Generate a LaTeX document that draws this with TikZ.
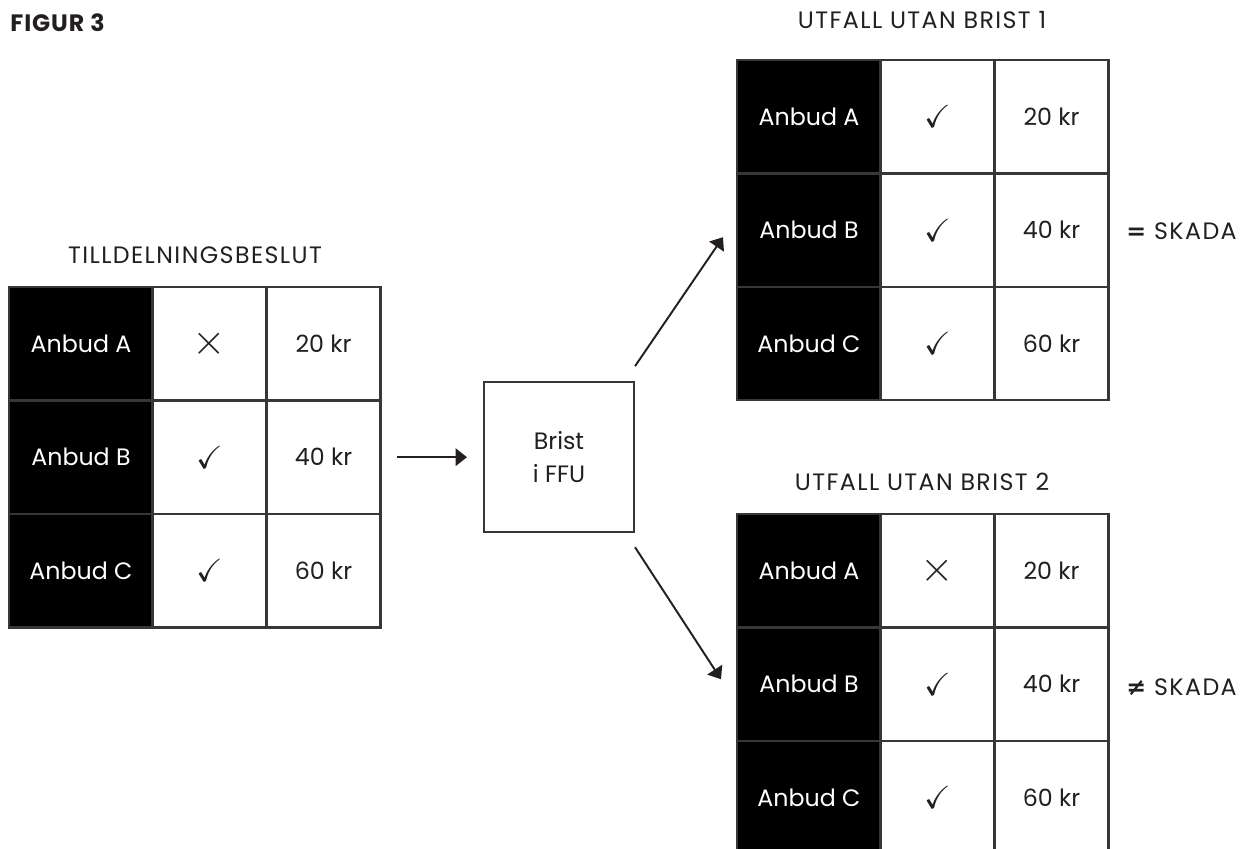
\documentclass[tikz,border=0pt]{standalone}
\usepackage{amssymb}
\usepackage{graphicx}
\usepackage{fontspec}
\setmainfont{Poppins}
\newfontfamily\symfont{DejaVu Sans}
\usetikzlibrary{arrows.meta, calc}
\definecolor{inkgray}{RGB}{35,31,32}
\definecolor{rulegray}{RGB}{55,55,55}
\newcommand{\tickmark}{\scalebox{1.35}{$\checkmark$}}
\newcommand{\crossmark}{\scalebox{1.7}{$\times$}}

\tikzset{
  namecell/.style={fill=black, draw=rulegray, line width=1.2pt, text=white, minimum width=2.88cm, minimum height=2.27cm, inner sep=0pt},
  valcell/.style={fill=white, draw=rulegray, line width=1.2pt, text=inkgray, minimum width=2.28cm, minimum height=2.27cm, inner sep=0pt},
  bristbox/.style={draw=rulegray, line width=1.2pt, text=inkgray, minimum width=3cm, minimum height=3cm, align=center, inner sep=0pt},
  heading/.style={text=inkgray, inner sep=0pt, font=\fontsize{13.5}{16}\selectfont\addfontfeature{LetterSpace=6}},
  flow/.style={-{Triangle[length=6.5pt, width=10pt]}, line width=1.1pt, inkgray},
}

\begin{document}
\begin{tikzpicture}[x=0.02cm, y=-0.02cm, font=\fontsize{13.5}{16}\selectfont]
			\clip (0,0) rectangle (1250,848);
			\fill[white] (0,0) rectangle (1250,848);
			% the three tables
			\foreach \tab/\x/\y/\ma in {lt/9/287/\crossmark, ut/737/60/\tickmark, nt/737/514/\crossmark} {
				\foreach \row/\amt [count=\i from 0] in {A/20, B/40, C/60} {
					\node[namecell] (\tab\row1) at (\x+72, \y+56.7+113.5*\i) {Anbud \row};
					\node[valcell] (\tab\row2) at (\x+200.5, \y+56.7+113.5*\i) {\ifnum\i=0 \ma\else\tickmark\fi};
					\node[valcell] (\tab\row3) at (\x+314.5, \y+56.7+113.5*\i) {\amt\ kr};
				}
			}
			\node[heading, font={\fontsize{13.5}{16}\selectfont\bfseries\addfontfeature{LetterSpace=4}}, anchor=west] (figtitle) at (10,23) {FIGUR 3};
			\node[heading] (lttitle) at (195,255) {TILLDELNINGSBESLUT};
			\node[heading] (uttitle) at (922,20) {UTFALL UTAN BRIST 1};
			\node[heading] (nttitle) at (922,482) {UTFALL UTAN BRIST 2};
			\node[bristbox] (brist) at (559,457.2) {Brist\\[3pt]i FFU};
			\node[heading, anchor=west] (eqskada) at (1126,231) {{\symfont\bfseries =}\,\,SKADA};
			\node[heading, anchor=west] (neqskada) at (1126,687) {{\symfont\bfseries ≠}\,\,SKADA};
			% arrows
			\draw[flow] ($(ltB3.east)+(15,0)$) -- ($(brist.west)+(-16,0)$);
			\draw[flow] ($(brist.north east)+(0,-15)$) -- ($(utB1.west)+(-13,7)$);
			\draw[flow] ($(brist.south east)+(0,14)$) -- ($(ntB1.west)+(-15,-5)$);
		\end{tikzpicture}
\end{document}
